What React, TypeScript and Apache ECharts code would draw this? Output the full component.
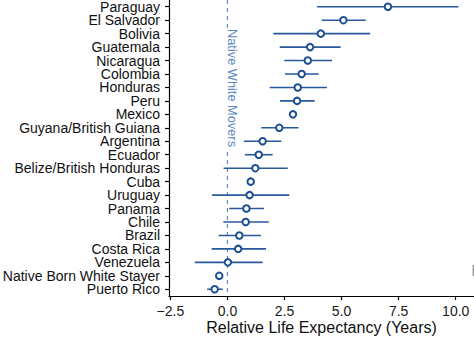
import React, { useEffect, useRef } from "react";
import * as echarts from "echarts";

const categories = [
  "Paraguay", "El Salvador", "Bolivia", "Guatemala", "Nicaragua", "Colombia",
  "Honduras", "Peru", "Mexico", "Guyana/British Guiana", "Argentina", "Ecuador",
  "Belize/British Honduras", "Cuba", "Uruguay", "Panama", "Chile", "Brazil",
  "Costa Rica", "Venezuela", "Native Born White Stayer", "Puerto Rico",
];
const estimates = [
  7.03, 5.08, 4.09, 3.62, 3.52, 3.25, 3.08, 3.05, 2.87, 2.27, 1.54, 1.37,
  1.22, 1.02, 0.97, 0.83, 0.8, 0.52, 0.47, 0.02, -0.36, -0.56,
];
const lower = [
  3.93, 4.13, 2.01, 2.29, 2.49, 2.52, 1.85, 2.3, 2.74, 1.48, 0.72, 0.77,
  -0.17, 0.88, -0.67, 0.08, -0.18, -0.39, -0.69, -1.43, -0.5, -0.89,
];
const upper = [
  10.12, 6.06, 6.25, 4.96, 4.58, 4.0, 4.36, 3.82, 3.0, 3.11, 2.36, 1.98,
  2.64, 1.16, 2.71, 1.6, 1.81, 1.47, 1.69, 1.54, -0.21, -0.21,
];
const xTicks = [-2.5, 0, 2.5, 5, 7.5, 10];
const refLineValue = [0];
const refLabel = "Native White Movers";
const xAxisTitle = "Relative Life Expectancy (Years)";

const DARK = "#1b4d92";
const LINE = "#27599c";
const REF = "#5b87c1";
const FONT = "Liberation Sans, Arial, sans-serif";

export default function App() {
  const ref = useRef<HTMLDivElement>(null);
  useEffect(() => {
    if (!ref.current) return;
    const chart = echarts.init(ref.current, null, { renderer: "svg" });
    const ciData = categories.map((c, i) => [lower[i], upper[i], c]);
    const ptData = categories.map((c, i) => [estimates[i], c]);
    chart.setOption({
      animation: false,
      textStyle: { fontFamily: FONT },
      grid: {
        left: 169,
        right: 0,
        top: 0,
        bottom: 41,
        containLabel: false,
        outerBoundsMode: "none",
      },
      xAxis: {
        type: "value",
        min: -2.56,
        max: 10.8,
        axisLine: { show: true, onZero: false, lineStyle: { color: "#000", width: 1.2 } },
        axisTick: {
          show: true,
          length: 4,
          customValues: xTicks,
          lineStyle: { color: "#000", width: 1.2 },
        },
        axisLabel: {
          customValues: xTicks,
          color: "#1a1a1a",
          fontSize: 14,
          margin: 8,
          formatter: (v: number) => (v < 0 ? "\u2212" : "") + Math.abs(v).toFixed(1),
        },
        splitLine: { show: false },
        name: xAxisTitle,
        nameLocation: "middle",
        nameGap: 23,
        nameMoveOverlap: false,
        nameTextStyle: { color: "#111", fontSize: 16, verticalAlign: "top" },
      },
      yAxis: {
        type: "category",
        data: categories,
        inverse: true,
        axisLine: { show: true, onZero: false, lineStyle: { color: "#000", width: 1.2 } },
        axisTick: { show: true, length: 4, alignWithLabel: true, interval: 0, lineStyle: { color: "#000", width: 1.2 } },
        axisLabel: { color: "#111", fontSize: 14, lineHeight: 13, margin: 9, interval: 0 },
        splitLine: { show: false },
      },
      series: [
        {
          type: "custom",
          data: refLineValue.map((v) => [v]),
          encode: { x: 0 },
          silent: true,
          renderItem: (params: any, api: any) => {
            const cs = params.coordSys;
            const x = api.coord([api.value(0), categories[0]])[0];
            return {
              type: "line",
              shape: { x1: x, y1: cs.y, x2: x, y2: cs.y + cs.height },
              style: { stroke: REF, lineWidth: 1.1, lineDash: [4, 4] },
            };
          },
          z: 1,
        },
        {
          type: "custom",
          data: ciData,
          encode: { x: [0, 1], y: 2 },
          renderItem: (params: any, api: any) => {
            const a = api.coord([api.value(0), api.value(2)]);
            const b = api.coord([api.value(1), api.value(2)]);
            return {
              type: "line",
              shape: { x1: a[0], y1: a[1], x2: b[0], y2: b[1] },
              style: { stroke: LINE, lineWidth: 1.6 },
            };
          },
          z: 2,
        },
        {
          type: "scatter",
          data: ptData,
          symbol: "circle",
          symbolSize: 6.5,
          itemStyle: { color: "#fff", borderColor: DARK, borderWidth: 2, opacity: 1 },
          z: 4,
        },
      ],
      graphic: [
        {
          type: "text",
          x: 232.5,
          y: 88,
          rotation: -Math.PI / 2,
          z: 10,
          style: {
            text: refLabel,
            fill: REF,
            fontSize: 12.8,
            fontFamily: FONT,
            align: "center",
            verticalAlign: "middle",
            backgroundColor: "#fff",
            padding: [0, 1],
          },
        },
        {
          type: "rect",
          shape: { x: 472.6, y: 265, width: 1.4, height: 11 },
          style: { fill: "#9a9a9a" },
        },
      ],
    });
    return () => chart.dispose();
  }, []);
  return (
    <div
      ref={ref}
      style={{ position: "absolute", left: 0, top: 0, width: 474, height: 337 }}
    />
  );
}
